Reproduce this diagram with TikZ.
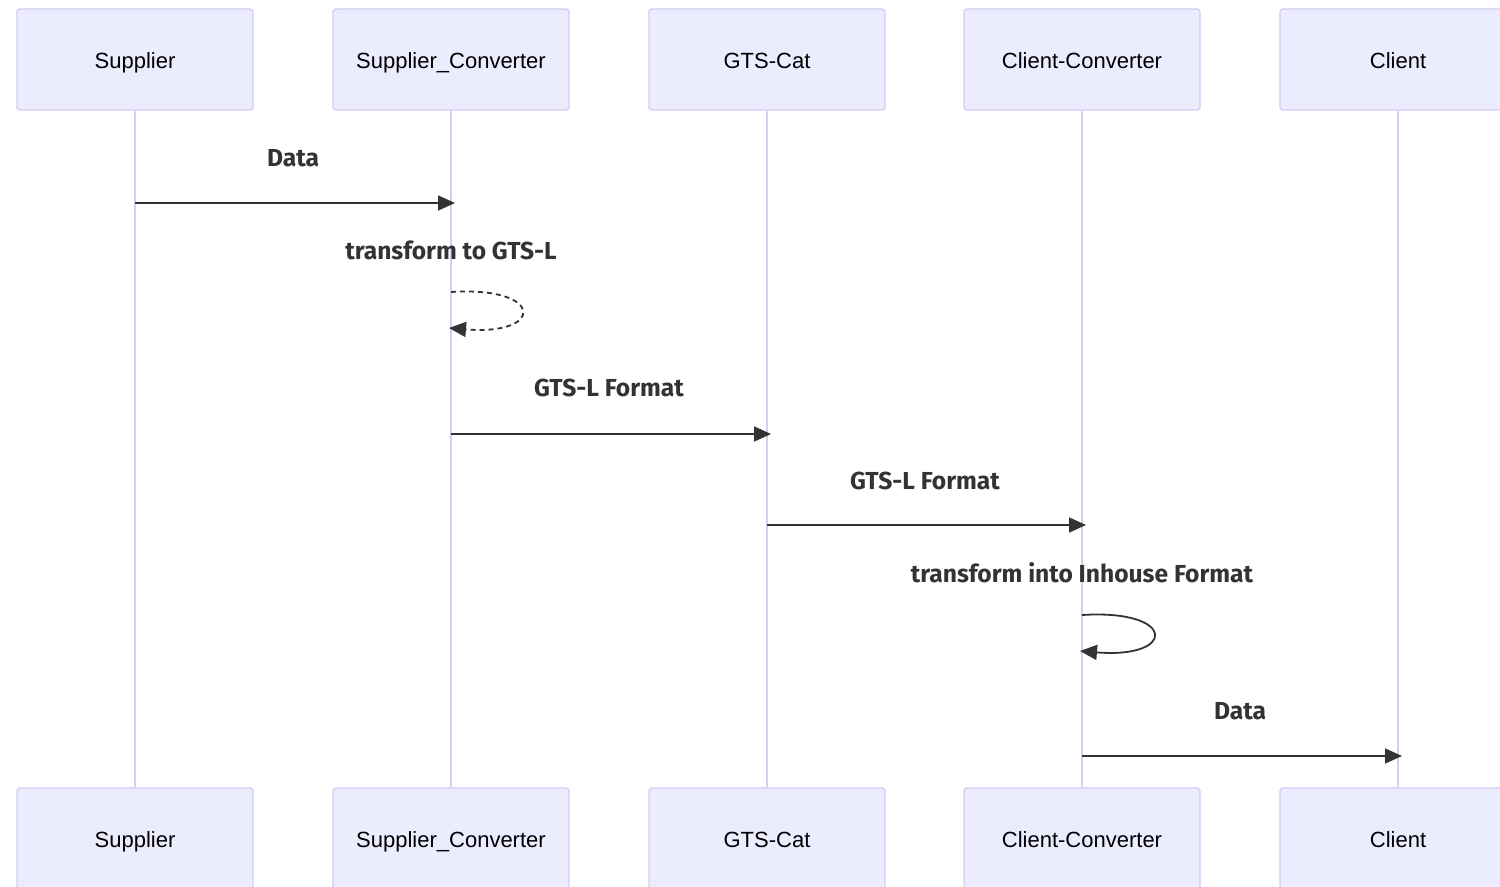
\documentclass[tikz,border=0pt]{standalone}
\usepackage{fontspec}
\setmainfont{Liberation Sans}
\newfontfamily\msgfont{Fira Sans}
\usetikzlibrary{arrows.meta}

\definecolor{actorfill}{HTML}{ECECFF}
\definecolor{actorline}{HTML}{D4CCF2}
\definecolor{lifecol}{HTML}{D9CCF0}
\definecolor{msgcol}{HTML}{333333}

\tikzset{
  actor/.style={draw=actorline, fill=actorfill, rounded corners=1.5pt, line width=0.7pt,
    minimum width=118pt, minimum height=50.5pt, text height=9.5pt, text depth=0.7pt,
    font=\fontsize{11}{13}\selectfont, text=black},
  lifeline/.style={draw=lifecol, line width=1pt},
  msg/.style={draw=msgcol, line width=0.9pt, -{Triangle[length=8.5pt,width=7.5pt]}},
  msglabel/.style={font=\msgfont\bfseries\fontsize{12.3}{14}\selectfont, text=msgcol}
}

\begin{document}
\begin{tikzpicture}[x=0.5pt,y=-0.5pt]
  \useasboundingbox (0,0) rectangle (1500,887);
  \clip (0,0) rectangle (1500,887);

  % actors on top
  \node[actor] (supplier) at (135,59.5)  {Supplier};
  \node[actor] (supconv)  at (451,59.5)  {Supplier\_Converter};
  \node[actor] (gtscat)   at (767,59.5)  {GTS-Cat};
  \node[actor] (cliconv)  at (1082,59.5) {Client-Converter};
  \node[actor] (client)   at (1398,59.5) {Client};

  % actors at the bottom
  \node[actor] (supplierB) at (135,838.5)  {Supplier};
  \node[actor] (supconvB)  at (451,838.5)  {Supplier\_Converter};
  \node[actor] (gtscatB)   at (767,838.5)  {GTS-Cat};
  \node[actor] (cliconvB)  at (1082,838.5) {Client-Converter};
  \node[actor] (clientB)   at (1398,838.5) {Client};

  % lifelines
  \draw[lifeline] (supplier.south) -- (supplierB.north);
  \draw[lifeline] (supconv.south)  -- (supconvB.north);
  \draw[lifeline] (gtscat.south)   -- (gtscatB.north);
  \draw[lifeline] (cliconv.south)  -- (cliconvB.north);
  \draw[lifeline] (client.south)   -- (clientB.north);

  % message end points
  \coordinate (m1a) at (135,203);  \coordinate (m1b) at (455,203);
  \coordinate (l1a) at (451,292);  \coordinate (l1b) at (449,328);
  \coordinate (m2a) at (451,434);  \coordinate (m2b) at (771,434);
  \coordinate (m3a) at (767,525);  \coordinate (m3b) at (1086,525);
  \coordinate (l2a) at (1082,615); \coordinate (l2b) at (1080,651);
  \coordinate (m4a) at (1082,756); \coordinate (m4b) at (1402,756);

  % messages
  \node[msglabel] (t1) at (293,158) {Data};
  \draw[msg] (m1a) -- (m1b);

  \node[msglabel] (t2) at (451,250) {transform to GTS-L};
  \draw[msg,dashed,dash pattern=on 2.5pt off 2pt] (l1a) .. controls (545,286) and (545,336) .. (l1b);

  \node[msglabel] (t3) at (609,388) {GTS-L Format};
  \draw[msg] (m2a) -- (m2b);

  \node[msglabel] (t4) at (925,481) {GTS-L Format};
  \draw[msg] (m3a) -- (m3b);

  \node[msglabel] (t5) at (1082,573) {transform into Inhouse Format};
  \draw[msg] (l2a) .. controls (1177,609) and (1177,659) .. (l2b);

  \node[msglabel] (t6) at (1240,711) {Data};
  \draw[msg] (m4a) -- (m4b);
\end{tikzpicture}
\end{document}
